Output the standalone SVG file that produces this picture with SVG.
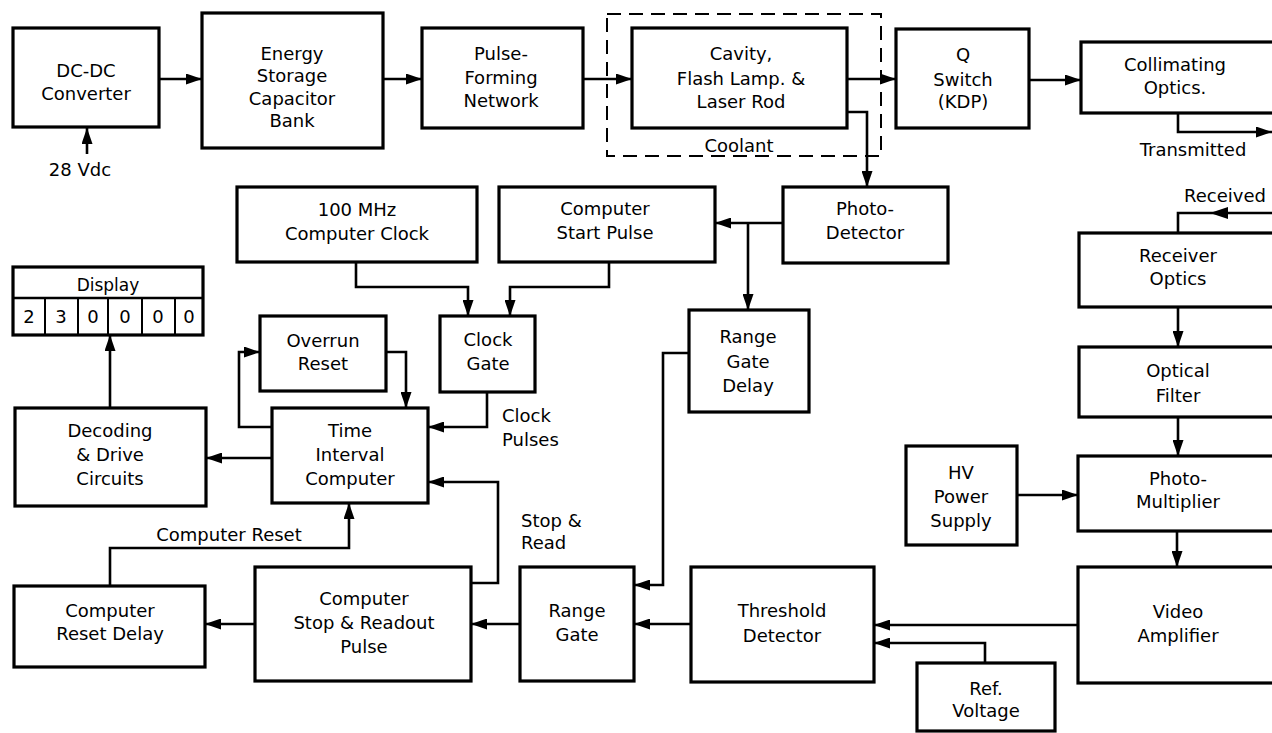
<svg xmlns="http://www.w3.org/2000/svg" width="1272" height="733" viewBox="0 0 1272 733">
<defs>
<style>
.box{fill:#fff;stroke:#000;stroke-width:3.2}
.c{fill:none;stroke:#000;stroke-width:2.6}
.t{font-family:"DejaVu Sans","Liberation Sans",sans-serif;font-size:18px;fill:#000;text-anchor:middle}
.l{font-family:"DejaVu Sans","Liberation Sans",sans-serif;font-size:18px;fill:#000}
.dash{fill:none;stroke:#000;stroke-width:2;stroke-dasharray:14 8}
</style>
<marker id="ah" viewBox="0 0 16 11" refX="16" refY="5.5" markerWidth="16" markerHeight="11" markerUnits="userSpaceOnUse" orient="auto"><path d="M0,0 L16,5.5 L0,11 z" fill="#000"/></marker>
</defs>
<rect width="1272" height="733" fill="#fff"/>

<rect class="dash" x="607" y="14" width="274" height="142"/>
<text class="t" x="739" y="152">Coolant</text>

<g id="dcdc"><rect class="box" x="13" y="28" width="146" height="99"/><text class="t" x="86" y="77">DC-DC</text><text class="t" x="86" y="100">Converter</text></g>
<g id="energy"><rect class="box" x="202" y="13" width="181" height="135"/><text class="t" x="292" y="60">Energy</text><text class="t" x="292" y="82">Storage</text><text class="t" x="292" y="105">Capacitor</text><text class="t" x="292" y="127">Bank</text></g>
<g id="pfn"><rect class="box" x="422" y="28" width="161" height="100"/><text class="t" x="501" y="60">Pulse-</text><text class="t" x="501" y="84">Forming</text><text class="t" x="501" y="107">Network</text></g>
<g id="cavity"><rect class="box" x="632" y="28" width="215" height="100"/><text class="t" x="741" y="60">Cavity,</text><text class="t" x="741" y="85">Flash Lamp. &amp;</text><text class="t" x="741" y="108">Laser Rod</text></g>
<g id="qswitch"><rect class="box" x="896" y="29" width="133" height="99"/><text class="t" x="963" y="61">Q</text><text class="t" x="963" y="86">Switch</text><text class="t" x="963" y="108">(KDP)</text></g>
<g id="collimating"><rect class="box" x="1081" y="42" width="210" height="71"/><text class="t" x="1175" y="71">Collimating</text><text class="t" x="1175" y="94">Optics.</text></g>
<g id="clock100"><rect class="box" x="237" y="187" width="240" height="75"/><text class="t" x="357" y="216">100  MHz</text><text class="t" x="357" y="240">Computer Clock</text></g>
<g id="startpulse"><rect class="box" x="499" y="187" width="216" height="75"/><text class="t" x="605" y="215">Computer</text><text class="t" x="605" y="239">Start Pulse</text></g>
<g id="photodetector"><rect class="box" x="783" y="187" width="165" height="76"/><text class="t" x="865" y="215">Photo-</text><text class="t" x="865" y="239">Detector</text></g>
<g id="display"><rect class="box" x="13" y="267" width="190" height="68"/><line x1="13" y1="298" x2="203" y2="298" stroke="#000" stroke-width="2.5"/><g stroke="#000" stroke-width="2"><line x1="45" y1="298" x2="45" y2="335"/><line x1="78" y1="298" x2="78" y2="335"/><line x1="108" y1="298" x2="108" y2="335"/><line x1="142" y1="298" x2="142" y2="335"/><line x1="175" y1="298" x2="175" y2="335"/></g><text class="t" x="108" y="291" style="font-size:17px">Display</text><text class="t" x="29" y="323">2</text><text class="t" x="61" y="323">3</text><text class="t" x="93" y="323">0</text><text class="t" x="125" y="323">0</text><text class="t" x="158" y="323">0</text><text class="t" x="189" y="323">0</text></g>
<g id="overrun"><rect class="box" x="260" y="316" width="126" height="75"/><text class="t" x="323" y="347">Overrun</text><text class="t" x="323" y="370">Reset</text></g>
<g id="clockgate"><rect class="box" x="440" y="316" width="95" height="76"/><text class="t" x="488" y="346">Clock</text><text class="t" x="488" y="370">Gate</text></g>
<g id="rgd"><rect class="box" x="689" y="310" width="120" height="102"/><text class="t" x="748" y="343">Range</text><text class="t" x="748" y="368">Gate</text><text class="t" x="748" y="392">Delay</text></g>
<g id="decoding"><rect class="box" x="15" y="408" width="191" height="98"/><text class="t" x="110" y="437">Decoding</text><text class="t" x="110" y="461">&amp; Drive</text><text class="t" x="110" y="485">Circuits</text></g>
<g id="tic"><rect class="box" x="272" y="408" width="156" height="95"/><text class="t" x="350" y="437">Time</text><text class="t" x="350" y="461">Interval</text><text class="t" x="350" y="485">Computer</text></g>
<g id="receiver"><rect class="box" x="1079" y="233" width="212" height="74"/><text class="t" x="1178" y="262">Receiver</text><text class="t" x="1178" y="285">Optics</text></g>
<g id="filter"><rect class="box" x="1079" y="347" width="212" height="70"/><text class="t" x="1178" y="377">Optical</text><text class="t" x="1178" y="402">Filter</text></g>
<g id="hv"><rect class="box" x="906" y="446" width="111" height="99"/><text class="t" x="961" y="479">HV</text><text class="t" x="961" y="503">Power</text><text class="t" x="961" y="527">Supply</text></g>
<g id="pmt"><rect class="box" x="1078" y="456" width="213" height="75"/><text class="t" x="1178" y="485">Photo-</text><text class="t" x="1178" y="508">Multiplier</text></g>
<g id="resetdelay"><rect class="box" x="14" y="586" width="191" height="81"/><text class="t" x="110" y="617">Computer</text><text class="t" x="110" y="640">Reset Delay</text></g>
<g id="stopreadout"><rect class="box" x="255" y="567" width="216" height="114"/><text class="t" x="364" y="605">Computer</text><text class="t" x="364" y="629">Stop &amp; Readout</text><text class="t" x="364" y="653">Pulse</text></g>
<g id="rangegate"><rect class="box" x="520" y="567" width="114" height="114"/><text class="t" x="577" y="617">Range</text><text class="t" x="577" y="641">Gate</text></g>
<g id="threshold"><rect class="box" x="691" y="567" width="183" height="115"/><text class="t" x="782" y="617">Threshold</text><text class="t" x="782" y="642">Detector</text></g>
<g id="video"><rect class="box" x="1078" y="567" width="213" height="116"/><text class="t" x="1178" y="618">Video</text><text class="t" x="1178" y="642">Amplifier</text></g>
<g id="refvoltage"><rect class="box" x="917" y="663" width="138" height="68"/><text class="t" x="986" y="695">Ref.</text><text class="t" x="986" y="717">Voltage</text></g>

<g id="labels">
<text class="t" x="80" y="176">28 Vdc</text>
<text class="t" x="1193" y="156">Transmitted</text>
<text class="t" x="1225" y="202">Received</text>
<text class="l" x="502" y="422">Clock</text>
<text class="l" x="502" y="446">Pulses</text>
<text class="l" x="521" y="527">Stop &amp;</text>
<text class="l" x="521" y="549">Read</text>
<text class="t" x="229" y="541">Computer Reset</text>
</g>

<g id="connectors">
<path class="c" d="M87,154 V128" marker-end="url(#ah)"/>
<path class="c" d="M159,79 H202" marker-end="url(#ah)"/>
<path class="c" d="M383,79 H422" marker-end="url(#ah)"/>
<path class="c" d="M583,79 H632" marker-end="url(#ah)"/>
<path class="c" d="M847,79 H896" marker-end="url(#ah)"/>
<path class="c" d="M1029,80 H1081" marker-end="url(#ah)"/>
<path class="c" d="M1178,113 V132 H1272" marker-end="url(#ah)"/>
<path class="c" d="M847,112 H867 V187" marker-end="url(#ah)"/>
<path class="c" d="M783,223 H715" marker-end="url(#ah)"/>
<path class="c" d="M748,223 V310" marker-end="url(#ah)"/>
<path class="c" d="M356,262 V287 H468 V316" marker-end="url(#ah)"/>
<path class="c" d="M609,262 V287 H510 V316" marker-end="url(#ah)"/>
<path class="c" d="M487,392 V427 H428" marker-end="url(#ah)"/>
<path class="c" d="M272,427 H239 V352 H260" marker-end="url(#ah)"/>
<path class="c" d="M386,352 H406 V408" marker-end="url(#ah)"/>
<path class="c" d="M272,458 H206" marker-end="url(#ah)"/>
<path class="c" d="M110,408 V335" marker-end="url(#ah)"/>
<path class="c" d="M110,586 V548 H349 V503" marker-end="url(#ah)"/>
<path class="c" d="M471,583 H498 V482 H428" marker-end="url(#ah)"/>
<path class="c" d="M520,624 H471" marker-end="url(#ah)"/>
<path class="c" d="M255,624 H205" marker-end="url(#ah)"/>
<path class="c" d="M689,353 H663 V585 H634" marker-end="url(#ah)"/>
<path class="c" d="M691,624 H634" marker-end="url(#ah)"/>
<path class="c" d="M1078,625 H874" marker-end="url(#ah)"/>
<path class="c" d="M985,663 V643 H874" marker-end="url(#ah)"/>
<path class="c" d="M1017,495 H1078" marker-end="url(#ah)"/>
<path class="c" d="M1272,213 H1178 V233"/>
<path d="M1210,213 L1228,207 L1228,219 z" fill="#000"/>
<path class="c" d="M1178,307 V347" marker-end="url(#ah)"/>
<path class="c" d="M1178,417 V456" marker-end="url(#ah)"/>
<path class="c" d="M1177,531 V567" marker-end="url(#ah)"/>
</g>
</svg>
